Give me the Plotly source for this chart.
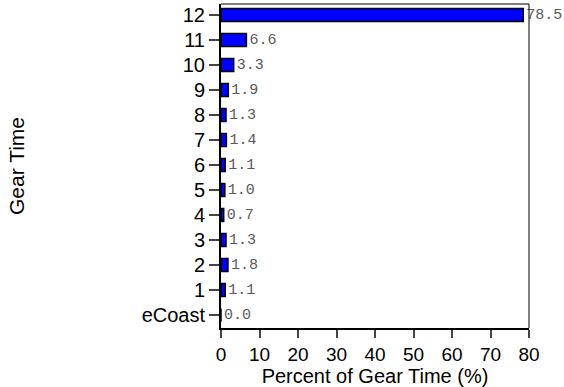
import plotly.graph_objects as go

categories = ["eCoast", "1", "2", "3", "4", "5", "6", "7", "8", "9", "10", "11", "12"]
values = [0.0, 1.1, 1.8, 1.3, 0.7, 1.0, 1.1, 1.4, 1.3, 1.9, 3.3, 6.6, 78.5]
x_ticks = [0, 10, 20, 30, 40, 50, 60, 70, 80]

fig = go.Figure(go.Bar(
    y=categories, x=values, orientation="h",
    marker=dict(color="#0000FF", line=dict(color="black", width=1.5)),
    width=0.52,
    text=[f"{v:.1f}" for v in values],
    textposition="outside",
    constraintext="none",
    cliponaxis=False,
    hoverinfo="none",
    textfont=dict(family="Liberation Mono", size=15, color="#5a5a5a"),
))

fig.update_layout(
    width=564, height=387,
    margin=dict(l=221, r=35, t=4, b=59),
    plot_bgcolor="white", paper_bgcolor="white",
    showlegend=False,
    font=dict(family="Liberation Sans, Arial", color="black"),
    xaxis=dict(
        range=[0, 80], tickvals=x_ticks, ticks="outside", ticklen=8, tickwidth=1.5,
        showline=True, linecolor="black", linewidth=2, mirror=False,
        showgrid=False, zeroline=False, tickfont=dict(size=19),
        title=dict(text="Percent of Gear Time (%)", font=dict(size=20), standoff=3),
    ),
    yaxis=dict(
        type="category", categoryorder="array", categoryarray=categories,
        range=[-0.52, 12.44], ticks="outside", ticklen=10, tickwidth=1.5,
        showline=True, linecolor="black", linewidth=2,
        showgrid=False, zeroline=False, tickfont=dict(size=20),
    ),
    shapes=[
        dict(type="line", xref="paper", yref="paper", x0=0, x1=1, y0=1, y1=1,
             line=dict(color="black", width=1)),
        dict(type="line", xref="paper", yref="paper", x0=1, x1=1, y0=0, y1=1,
             line=dict(color="black", width=1)),
    ],
    annotations=[
        dict(text="Gear Time", xref="paper", yref="paper", x=0, y=0.5,
             xshift=-205, textangle=-90, showarrow=False,
             font=dict(size=21), xanchor="center", yanchor="middle"),
    ],
)

fig.write_html("out.html", config={"displayModeBar": False},
               post_script="document.body.style.margin='0';document.body.style.padding='0';")
